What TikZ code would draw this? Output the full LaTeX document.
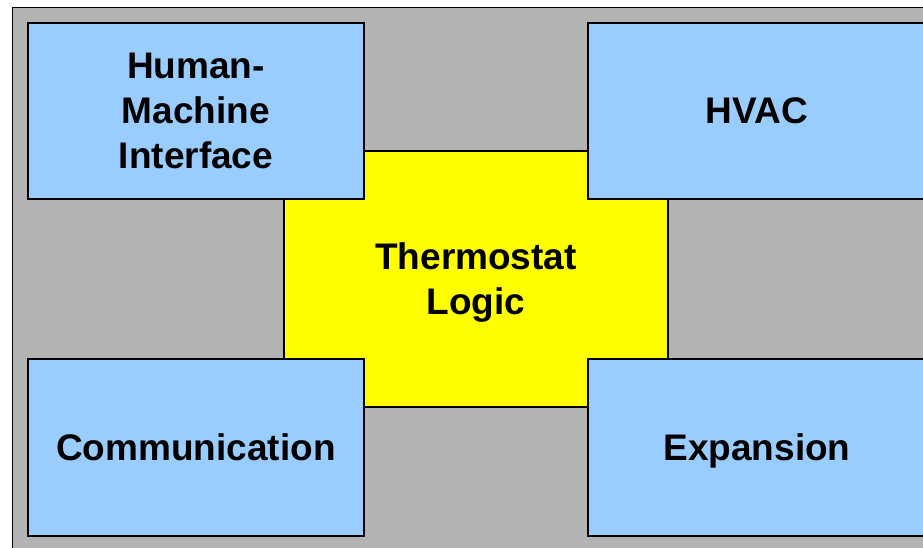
\documentclass[tikz,border=0pt]{standalone}
\usepackage{fontspec}
\setmainfont{Liberation Sans}
\definecolor{bgray}{HTML}{B3B3B3}
\definecolor{boxblue}{HTML}{99CCFF}
\definecolor{logicyellow}{HTML}{FFFF00}
\tikzset{
  block/.style={draw=black, line width=1.2pt, inner sep=0pt, outer sep=0pt,
    anchor=north west, align=center, text depth=0pt,
    font=\fontsize{37}{45}\selectfont\bfseries},
  bluebox/.style={block, fill=boxblue, minimum width=336pt, minimum height=176pt},
  logicbox/.style={block, fill=logicyellow, minimum width=384pt, minimum height=256pt},
}
\begin{document}
\begin{tikzpicture}[x=1pt,y=-1pt]
  \clip (0,0) rectangle (923,547);
  \fill[white] (0,0) rectangle (923,547);
  \node[draw=black, line width=1.2pt, fill=bgray, inner sep=0pt, anchor=north west,
        minimum width=930pt, minimum height=560pt] (bg) at (12,7) {};
  \node[logicbox] (logic) at (284,151) {Thermostat\\Logic};
  \node[bluebox] (hmi) at (28,23) {Human-\\Machine\\Interface};
  \node[bluebox, minimum width=338pt] (hvac) at (588,23) {HVAC};
  \node[bluebox, minimum height=177pt] (comm) at (28,359) {Communication};
  \node[bluebox, minimum width=338pt, minimum height=177pt] (exp) at (588,359) {Expansion};
\end{tikzpicture}
\end{document}
